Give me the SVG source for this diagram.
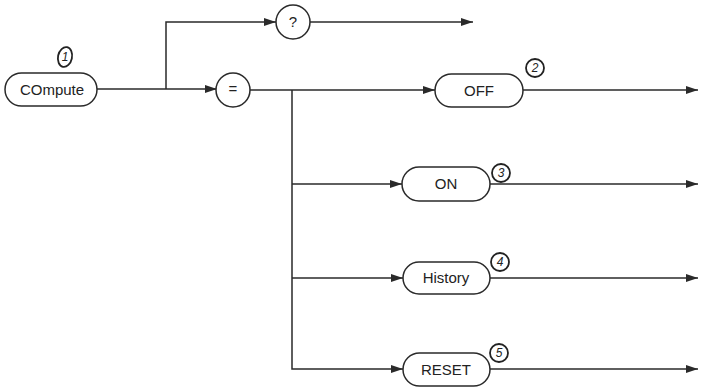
<svg xmlns="http://www.w3.org/2000/svg" width="701" height="389" viewBox="0 0 701 389">
<style>
.box{fill:#fff;stroke:#2a2a2a;stroke-width:1.5}
.t{font-family:"Liberation Sans",Arial,sans-serif;font-size:15px;fill:#222;text-anchor:middle}
.c{fill:none;stroke:#2a2a2a;stroke-width:1.5}
.hl{fill:none;stroke:#222;stroke-width:1.8}
.h{font-family:"Liberation Sans",Arial,sans-serif;font-size:12px;font-style:italic;fill:#222;text-anchor:middle}
</style>
<defs>
<marker id="a" viewBox="0 0 12 8" refX="12" refY="4" markerWidth="12" markerHeight="8" markerUnits="userSpaceOnUse" orient="auto">
<path d="M0,0 L12,4 L0,8 Z" fill="#2a2a2a"/>
</marker>
</defs>
<rect width="701" height="389" fill="#fff"/>
<g id="connectors">
<path class="c" d="M97,89 H217" marker-end="url(#a)"/>
<path class="c" d="M166,89 V22 H276" marker-end="url(#a)"/>
<path class="c" d="M310,22 H473" marker-end="url(#a)"/>
<path class="c" d="M250,90 H435" marker-end="url(#a)"/>
<path class="c" d="M292,90 V369 H403" marker-end="url(#a)"/>
<path class="c" d="M292,184 H402" marker-end="url(#a)"/>
<path class="c" d="M292,278 H403" marker-end="url(#a)"/>
<path class="c" d="M523,90 H698" marker-end="url(#a)"/>
<path class="c" d="M490,184 H698" marker-end="url(#a)"/>
<path class="c" d="M490,278 H698" marker-end="url(#a)"/>
<path class="c" d="M490,369 H698" marker-end="url(#a)"/>
</g>
<g id="compute">
<rect class="box" x="5" y="73" width="92" height="33" rx="16.5"/>
<text class="t" x="52" y="95">COmpute</text>
</g>
<g id="label1">
<ellipse class="hl" cx="65" cy="57" rx="7" ry="10" transform="rotate(12 65 57)"/>
<text class="h" x="65" y="61">1</text>
</g>
<g id="query">
<circle class="box" cx="293" cy="22" r="17"/>
<text class="t" x="293" y="27">?</text>
</g>
<g id="equals">
<circle class="box" cx="233" cy="90" r="17"/>
<text class="t" x="233" y="94">=</text>
</g>
<g id="off">
<rect class="box" x="435" y="74" width="88" height="33" rx="16.5"/>
<text class="t" x="479" y="96">OFF</text>
</g>
<g id="label2">
<circle class="hl" cx="535" cy="68" r="9"/>
<text class="h" x="535" y="72">2</text>
</g>
<g id="on">
<rect class="box" x="402" y="167" width="88" height="34" rx="17"/>
<text class="t" x="446" y="189">ON</text>
</g>
<g id="label3">
<circle class="hl" cx="501" cy="173" r="9"/>
<text class="h" x="501" y="177">3</text>
</g>
<g id="history">
<rect class="box" x="403" y="262" width="87" height="32" rx="16"/>
<text class="t" x="446" y="283">History</text>
</g>
<g id="label4">
<circle class="hl" cx="500" cy="262" r="9"/>
<text class="h" x="500" y="266">4</text>
</g>
<g id="reset">
<rect class="box" x="403" y="353" width="87" height="33" rx="16.5"/>
<text class="t" x="446" y="375">RESET</text>
</g>
<g id="label5">
<circle class="hl" cx="499" cy="353" r="9"/>
<text class="h" x="499" y="357">5</text>
</g>
</svg>
